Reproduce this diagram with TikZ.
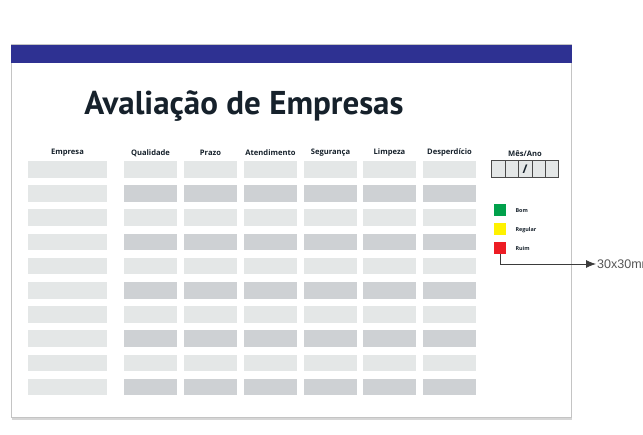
\documentclass[tikz,border=0pt]{standalone}
\usepackage{fontspec}
\usepackage{xcolor}
\setmainfont{PT Sans}
\newfontfamily\headfont{Open Sans}
\newfontfamily\notefont{Liberation Sans}
\usetikzlibrary{arrows.meta,positioning}
\definecolor{banner}{HTML}{2E3192}
\definecolor{titletext}{HTML}{16212B}
\definecolor{celllight}{HTML}{E4E7E7}
\definecolor{celldark}{HTML}{CED1D4}
\definecolor{frame}{HTML}{C4C4C4}
\definecolor{boxline}{HTML}{4A4A4A}
\definecolor{okgreen}{HTML}{00A14B}
\definecolor{midyellow}{HTML}{FFF200}
\definecolor{badred}{HTML}{ED1C24}
\definecolor{note}{HTML}{555555}

\begin{document}
\begin{tikzpicture}[x=1pt, y=-1pt,
    cell/.style = {inner sep=0, minimum height=16.7pt},
    head/.style = {font=\headfont\bfseries\fontsize{7.6}{8}\selectfont, text=titletext},
    datebox/.style = {draw=boxline, line width=0.8pt, fill=celllight, inner sep=0,
                      minimum width=13.4pt, minimum height=17pt},
    swatch/.style = {inner sep=0, minimum size=12.3pt},
    key/.style = {font=\headfont\bfseries\fontsize{5.4}{6}\selectfont, text=titletext}]
    \useasboundingbox (0,0) rectangle (643,435);

    % board and banner
    \draw[frame!70, line width=2pt] (12,419) -- (572,419);
    \draw[frame, line width=1pt, fill=white] (11,45) rectangle (571.5,418);
    \fill[banner] (11,45) rectangle (571.5,62.7);
    \node[font=\bfseries\fontsize{33}{36}\selectfont, text=titletext] (title) at (244,106) {Avaliação de Empresas};

    % column heads
    \node[head] (hemp) at (67.5,153)  {Empresa};
    \node[head] (hq)   at (150.5,153) {Qualidade};
    \node[head] (hp)   at (210.5,153) {Prazo};
    \node[head] (ha)   at (270.5,153) {Atendimento};
    \node[head] (hs)   at (330.5,153) {Segurança};
    \node[head] (hl)   at (389.5,153) {Limpeza};
    \node[head] (hd)   at (449.5,153) {Desperdício};

    % rows
    \foreach \r in {1,...,10} {
        \pgfmathsetmacro\yy{169.35+24.2*(\r-1)}
        \ifodd\r \def\tone{celllight}\else\def\tone{celldark}\fi
        \node[cell, fill=celllight, minimum width=79pt] (e\r) at (67.5,\yy) {};
        \foreach \c/\xx in {q/150.5, p/210.5, a/270.5, s/330.5, l/389.5, d/449.5}
            \node[cell, fill=\tone, minimum width=53pt] (\c\r) at (\xx,\yy) {};
    }

    % month / year
    \node[head] (mes) at (525,154) {Mês/Ano};
    \foreach \i/\xx in {1/498.4, 2/511.8, 3/525.2, 4/538.6, 5/552}
        \node[datebox] (m\i) at (\xx,169.2) {};
    \node[font=\headfont\bfseries\fontsize{12}{12}\selectfont, text=titletext, inner sep=0] at (m3) {/};

    % legend
    \node[swatch, fill=okgreen]   (bom)     at (500,210) {};
    \node[swatch, fill=midyellow] (regular) at (500,229) {};
    \node[swatch, fill=badred]    (ruim)    at (500,248) {};
    \node[key, anchor=west] (tbom) at (512,211) {Bom};
    \node[key, anchor=west] (treg) at (512,230) {Regular};
    \node[key, anchor=west] (trui) at (512,248.5) {Ruim};

    % size note
    \node[font=\notefont\fontsize{12.5}{14}\selectfont, text=note, anchor=west, inner sep=1pt] (size) at (596,264) {30x30mm};
    \draw[-{Latex[length=10pt, width=8pt]}, boxline!80!black, line width=0.8pt] (ruim.south) |- (size.west);
\end{tikzpicture}
\end{document}
